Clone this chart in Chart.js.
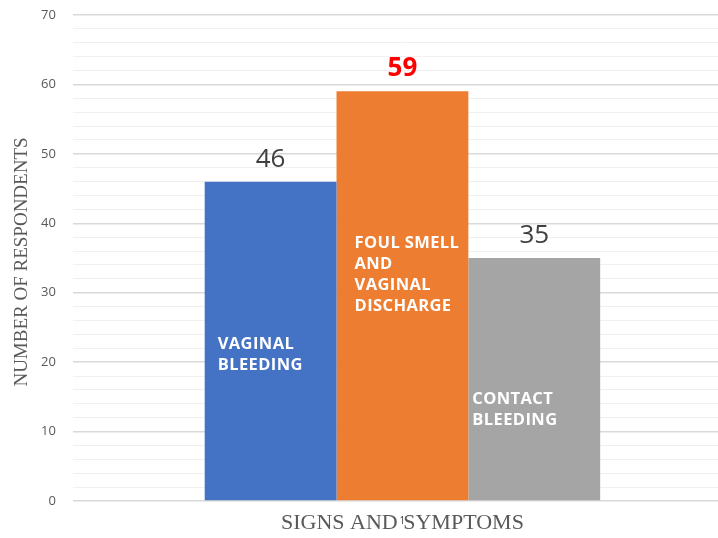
<!DOCTYPE html>
<html>
<head>
<meta charset="utf-8">
<script src="https://cdn.jsdelivr.net/npm/chart.js@4.4.1/dist/chart.umd.min.js"></script>
<style>
  html, body { margin: 0; padding: 0; background: #fff; overflow: hidden; }
  #wrap { width: 718px; height: 538px; overflow: hidden; }
</style>
</head>
<body>
<div id="wrap"><canvas id="chart" width="732" height="538"></canvas></div>
<script>
const categories = ['1'];
const seriesNames = [
  ['VAGINAL', 'BLEEDING'],
  ['FOUL SMELL', 'AND', 'VAGINAL', 'DISCHARGE'],
  ['CONTACT', 'BLEEDING']
];
const seriesValues = [46, 59, 35];
const seriesColors = ['#4472c4', '#ed7d31', '#a5a5a5'];
const valueColors = ['#404040', '#ff0000', '#404040'];
const valueBold = [false, true, false];
const xTitle = 'SIGNS AND SYMPTOMS';
const yTitle = 'NUMBER OF RESPONDENTS';

// baseline of the first white line inside each bar, in axis units
const nameAnchor = [21.9, 36.4, 14.0];
const nameOffsetX = [13, 18, 4];

const sans = '"Open Sans", "DejaVu Sans", sans-serif';
const serif = '"Liberation Serif", "DejaVu Serif", serif';

const barLabels = {
  id: 'barLabels',
  // titles go first so the lone "1" tick ends up on top, like the original
  beforeDraw(chart) {
    const ctx = chart.ctx;
    const area = chart.chartArea;
    ctx.save();
    ctx.fillStyle = '#595959';
    ctx.textAlign = 'center';
    ctx.textBaseline = 'middle';
    ctx.font = '22px ' + serif;
    ctx.fillText(xTitle, (area.left + area.right) / 2, 523);
    ctx.translate(22, (area.top + area.bottom) / 2 + 4);
    ctx.rotate(-Math.PI / 2);
    ctx.font = '19px ' + serif;
    ctx.fillText(yTitle, 0, 0);
    ctx.restore();
  },
  afterDatasetsDraw(chart) {
    const ctx = chart.ctx;
    const y = chart.scales.y;
    chart.data.datasets.forEach((ds, i) => {
      const bar = chart.getDatasetMeta(i).data[0];
      const left = bar.x - bar.width / 2;
      ctx.save();
      ctx.fillStyle = valueColors[i];
      ctx.font = (valueBold[i] ? 'bold ' : '') + '26px ' + sans;
      ctx.textAlign = 'center';
      ctx.textBaseline = 'alphabetic';
      ctx.fillText(String(seriesValues[i]), bar.x, bar.y - 15);

      ctx.fillStyle = '#ffffff';
      ctx.font = 'bold 16.5px ' + sans;
      ctx.letterSpacing = '0.4px';
      ctx.textAlign = 'left';
      const base = y.getPixelForValue(nameAnchor[i]);
      seriesNames[i].forEach((line, k) => {
        ctx.fillText(line, left + nameOffsetX[i], base + k * 21);
      });
      ctx.restore();
    });
  }
};

new Chart(document.getElementById('chart'), {
  type: 'bar',
  data: {
    labels: categories,
    datasets: seriesValues.map((v, i) => ({
      label: seriesNames[i].join(' '),
      data: [v],
      backgroundColor: seriesColors[i],
      barPercentage: 1,
      categoryPercentage: 0.6
    }))
  },
  options: {
    responsive: false,
    animation: false,
    layout: { padding: { top: 15, right: 0, left: 24, bottom: 13 } },
    plugins: {
      legend: { display: false },
      tooltip: { enabled: false }
    },
    scales: {
      x: {
        grid: { display: false },
        border: { display: false },
        ticks: { color: '#404040', font: { family: sans, size: 10 }, padding: 6 },
        afterFit: (s) => { s.height = 24; }
      },
      y: {
        min: 0,
        max: 70,
        border: { display: false },
        grid: {
          color: (c) => (c.tick && c.tick.value % 10 === 0 ? '#d9d9d9' : '#f0f0f0'),
          lineWidth: (c) => (c.tick && c.tick.value % 10 === 0 ? 1.5 : 1),
          drawTicks: false
        },
        ticks: {
          stepSize: 2,
          autoSkip: false,
          padding: 17,
          color: '#595959',
          font: { family: sans, size: 13 },
          callback: (v) => (v % 10 === 0 ? v : '')
        },
        afterFit: (s) => { s.paddingTop = 0; s.paddingBottom = 0; }
      }
    }
  },
  plugins: [barLabels]
});
</script>
</body>
</html>
